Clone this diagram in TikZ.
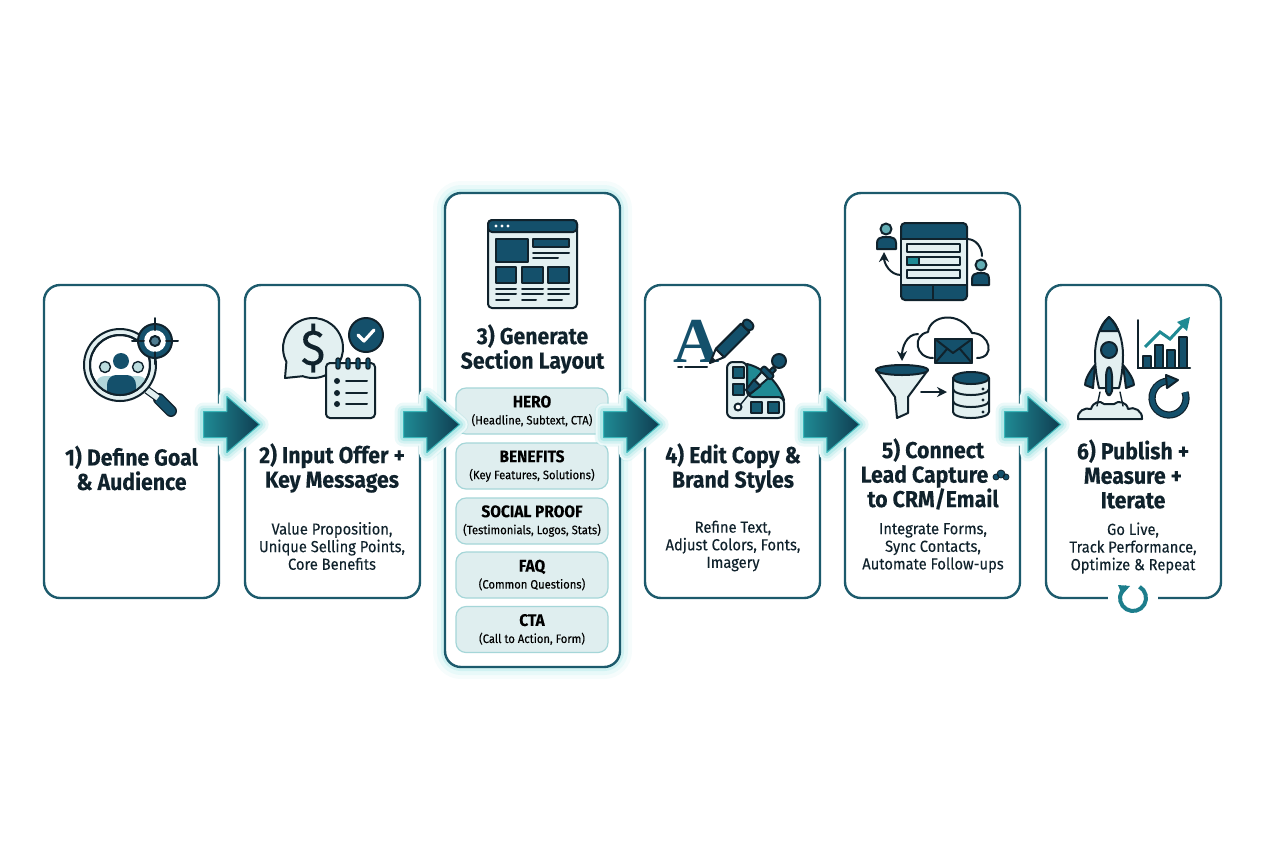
\documentclass[tikz,border=0pt]{standalone}
\usepackage{fontspec}
\setmainfont{Fira Sans}[FakeStretch=0.92, FakeBold=0.12]
\newfontfamily\iconserif{Liberation Serif}
\usetikzlibrary{shapes.arrows,arrows.meta}

\definecolor{navy}{HTML}{14506B}
\definecolor{ink}{HTML}{10222C}
\definecolor{cardline}{HTML}{1C5A6C}
\definecolor{tealmid}{HTML}{1F8A94}
\definecolor{pale}{HTML}{E3F0F1}
\definecolor{secfill}{HTML}{DFEEEF}
\definecolor{secline}{HTML}{A5D6D8}
\definecolor{glowteal}{HTML}{45CCCC}

\tikzset{
  card/.style={draw=cardline, fill=white, line width=1.2pt, rounded corners=8pt, minimum width=87.5pt, inner sep=0pt},
  glowcard/.style={card, preaction={draw=glowteal, line width=12pt, opacity=0.05}, preaction={draw=glowteal, line width=8pt, opacity=0.08}, preaction={draw=glowteal, line width=4pt, opacity=0.14}},
  secbox/.style={draw=secline, fill=secfill, line width=0.6pt, rounded corners=5pt, minimum width=76pt, minimum height=23pt, inner sep=0pt, align=center, font=\fontsize{6.1}{8.5}\selectfont},
  blockarrow/.style={single arrow, minimum height=28pt, minimum width=27.5pt, single arrow head extend=7.5pt, single arrow tip angle=81, inner xsep=0pt, inner ysep=6.25pt, left color=tealmid, right color=navy!75!black, draw=glowteal!70!tealmid, line width=0.5pt, line join=round,
    preaction={draw=white, line width=8pt, line join=round}, preaction={draw=glowteal, line width=9pt, opacity=0.10, line join=round}, preaction={draw=glowteal, line width=6pt, opacity=0.14, line join=round}, preaction={draw=glowteal, line width=3.5pt, opacity=0.22, line join=round}},
  title/.style={align=center, font=\fontsize{11.55}{12.25}\selectfont\bfseries, text=ink, inner sep=0pt},
  sub/.style={align=center, font=\fontsize{8}{8.8}\selectfont, text=ink, inner sep=0pt},
  icon/.style={draw=ink, line width=1pt, line join=round, line cap=round},
  thinrule/.style={draw=ink, line width=1pt, line cap=round},
}

\begin{document}
\begin{tikzpicture}[x=0.5pt, y=-0.5pt]
    \useasboundingbox (0,0) rectangle (1264,848);

    % cards
    \node[card, minimum height=156.5pt] (card1) at (131.5,441.5) {};
    \node[card, minimum height=156.5pt] (card2) at (332.5,441.5) {};
    \node[glowcard, minimum height=237pt] (card3) at (532.5,430) {};
    \node[card, minimum height=156.5pt] (card4) at (732.5,441.5) {};
    \node[card, minimum height=202.5pt] (card5) at (932.5,395.5) {};
    \node[card, minimum height=156.5pt] (card6) at (1133.5,441.5) {};

    % titles and captions
    \node[title] (title1) at (131.5,468) {1) Define Goal\\\& Audience};
    \node[title] (title2) at (332,468) {2) Input Offer +\\Key Messages};
    \node[title] (title3) at (532.5,349) {3) Generate\\Section Layout};
    \node[title] (title4) at (733,468) {4) Edit Copy \&\\Brand Styles};
    \node[title] (title5) at (933,474) {5) Connect\\Lead Capture\rule{8.5pt}{0pt}\\to CRM/Email};
    \node[title] (title6) at (1133,474) {6) Publish +\\Measure +\\Iterate};
    \node[sub] (sub2) at (332,546) {Value Proposition,\\Unique Selling Points,\\Core Benefits};
    \node[sub] (sub4) at (733,546) {Refine Text,\\Adjust Colors, Fonts,\\Imagery};
    \node[sub] (sub5) at (933,548) {Integrate Forms,\\Sync Contacts,\\Automate Follow-ups};
    \node[sub] (sub6) at (1133,548) {Go Live,\\Track Performance,\\Optimize \& Repeat};

    % sections of the layout
    \node[secbox] (hero) at (532,411) {{\fontsize{8.4}{8.5}\selectfont\bfseries HERO}\\(Headline, Subtext, CTA)};
    \node[secbox] (benefits) at (532,466) {{\fontsize{8.4}{8.5}\selectfont\bfseries BENEFITS}\\(Key Features, Solutions)};
    \node[secbox] (proof) at (532,521) {{\fontsize{8.4}{8.5}\selectfont\bfseries SOCIAL PROOF}\\(Testimonials, Logos, Stats)};
    \node[secbox] (faq) at (532,575) {{\fontsize{8.4}{8.5}\selectfont\bfseries FAQ}\\(Common Questions)};
    \node[secbox] (cta) at (532,629.5) {{\fontsize{8.4}{8.5}\selectfont\bfseries CTA}\\(Call to Action, Form)};

    % icon 1: magnifier, audience, target
    \draw[ink, line width=6pt, line cap=round] (159,399) -- (171,411);
    \draw[navy, line width=4.6pt, line cap=round] (159,399) -- (171,411);
    \draw[ink, line width=4pt] (147,390) -- (158,398);
    \draw[pale, line width=2.8pt] (147,390) -- (158,398);
    \draw[icon, fill=pale] (120,365) circle (36);
    \draw[icon, fill=white] (120,365) circle (30);
    \begin{scope}
        \clip (120,365) circle (30);
        \fill[pale!80!tealmid] (105,367) circle (5.5);
        \fill[pale!80!tealmid] (138,367) circle (5.5);
        \fill[tealmid!35!white] (96,400) -- (96,384) to[out=90,in=180] (105,376) -- (138,376) to[out=0,in=90] (147,384) -- (147,400) -- cycle;
        \fill[navy] (107,400) -- (107,385) to[out=90,in=180] (116,375) -- (127,375) to[out=0,in=90] (136,385) -- (136,400) -- cycle;
    \end{scope}
    \draw[icon, line width=0.7pt] (105,367) circle (5.5) (138,367) circle (5.5);
    \fill[navy] (121,361) circle (8);
    \draw[icon] (120,365) circle (30);
    \draw[icon, fill=navy] (155,341) circle (17);
    \fill[white] (155,341) circle (11);
    \draw[icon, fill=navy!75!white] (155,341) circle (5);
    \draw[thinrule] (132,341) -- (144,341) (166,341) -- (178,341) (155,318) -- (155,330) (155,352) -- (155,364);

    % icon 2: offer bubble, check, notepad
    \draw[icon, fill=pale] (285,378) -- (286.4,361.8) arc (152.6:470:30) -- cycle;
    \node[inner sep=0pt, text=ink, font=\fontsize{25}{25}\selectfont] (dollar) at (313,348) {\$};
    \fill[navy, draw=ink, line width=1pt] (366,335) circle (17);
    \draw[white, line width=1.6pt, line cap=round, line join=round] (358,335) -- (364,341) -- (374,330);
    \draw[icon, fill=pale, rounded corners=2pt] (326,363) rectangle (375,418);
    \foreach \xring in {338,348,358,368} {
        \draw[icon, fill=navy, line width=0.7pt, rounded corners=1pt] (\xring-2,358) rectangle (\xring+2,369);
    }
    \foreach \yitem in {381,393,404} {
        \fill[ink] (337,\yitem) circle (3);
        \draw[thinrule] (346,\yitem) -- (367,\yitem);
    }

    % icon 3: page layout
    \draw[icon, fill=pale, rounded corners=2pt] (488,220) rectangle (577,308);
    \draw[icon, fill=navy, rounded corners=2pt] (488,220) rectangle (577,232);
    \foreach \xdot in {496,502,508} { \fill[white] (\xdot,226) circle (1.6); }
    \draw[icon, fill=navy] (496,239) rectangle (528,262);
    \draw[icon, fill=navy] (533,239) rectangle (569,247);
    \draw[thinrule] (533,253) -- (569,253) (533,258) -- (558,258);
    \foreach \xa/\xb/\xc in {496/516/509,522/543/536,548/569/562} {
        \draw[icon, fill=navy] (\xa,267) rectangle (\xb,283);
        \draw[thinrule] (\xa,289) -- (\xb,289) (\xa,294) -- (\xb,294) (\xa,300) -- (\xc,300);
    }

    % icon 4: letter, pencil, palette, dropper
    \node[inner sep=0pt, text=navy, font=\iconserif\bfseries\fontsize{32}{32}\selectfont] (letter) at (697,341) {A};
    \draw[thinrule] (678,367) -- (682,367) (685,367) -- (707,367);
    \draw[icon, fill=white] (710,363) -- (715.8,348.8) -- (720,353) -- (724.2,357.2) -- cycle;
    \draw[icon, fill=navy] (715.8,348.8) -- (741,323.6) -- (749.4,332) -- (724.2,357.2) -- cycle;
    \draw[icon, fill=navy, rounded corners=2pt] (741,323.6) -- (746.8,317.8) -- (755.2,326.2) -- (749.4,332) -- cycle;
    \fill[ink] (710,363) -- (712.5,357) -- (716,360.5) -- cycle;
    \draw[icon, fill=tealmid] (747,364) .. controls (765,368) and (780,385) .. (784,400) -- (747,400) -- cycle;
    \draw[icon, fill=pale, rounded corners=3pt] (727,362) -- (747,362) -- (747,397) -- (784,397) -- (784,418) -- (727,418) -- cycle;
    \draw[icon, fill=navy!80!tealmid] (733,367) rectangle (744,378) (733,384) rectangle (744,395) (751,402) rectangle (762,413) (768,402) rectangle (779,413);
    \draw[icon, fill=white] (738,407) circle (3.5);
    \draw[icon, line width=0.7pt] (741,404) -- (750,393);
    \draw[icon, fill=pale] (761.8,371.8) -- (768.2,378.2) -- (750,394) -- (746,390) -- cycle;
    \draw[icon, fill=navy] (754,379.6) -- (760.4,386) -- (750,394) -- (746,390) -- cycle;
    \draw[icon, fill=navy] (773,367) -- (776,370) -- (770,376) -- (767,373) -- cycle;
    \draw[icon, fill=navy, rounded corners=1pt] (760,370) -- (764.2,365.8) -- (774.2,375.8) -- (770,380) -- cycle;
    \draw[icon, fill=navy] (779,361) circle (7);

    % icon 5: form and people
    \draw[icon, fill=navy, rounded corners=2pt] (901,223) rectangle (967,300);
    \fill[pale, draw=ink, line width=1pt] (901,239) rectangle (967,285);
    \draw[ink, line width=0.6pt] (933,285) -- (933,300);
    \draw[icon, fill=pale] (907,244) rectangle (960,252) (907,257) rectangle (960,265) (907,270) rectangle (960,278);
    \draw[icon, fill=tealmid] (907,257) rectangle (919,265);
    \draw[icon, fill=tealmid!70!white] (886,229) circle (5.5);
    \draw[icon, fill=navy] (877,249) -- (877,243) .. controls (877,239) and (880,237) .. (883,237) -- (890,237) .. controls (893,237) and (896,239) .. (896,243) -- (896,249) -- cycle;
    \draw[icon, fill=tealmid!70!white] (981,265) circle (5.5);
    \draw[icon, fill=navy] (972,285) -- (972,279) .. controls (972,275) and (975,273) .. (978,273) -- (984,273) .. controls (987,273) and (989,275) .. (989,279) -- (989,285) -- cycle;
    \draw[icon, -{Stealth[length=5pt,width=5pt]}] (901,275) to[out=180,in=-90] (884,252);
    \draw[icon] (967,239) to[out=0,in=90] (982,256);

    % icon 5: cloud, funnel, database
    \draw[icon] (933,358) .. controls (915,358) and (912,335) .. (928,332) .. controls (930,315) and (960,310) .. (972,333) .. controls (990,333) and (996,358) .. (977,358);
    \draw[icon, fill=navy] (935,339) rectangle (972,363);
    \draw[icon, draw=ink] (935,339) -- (953,353) -- (972,339) (935,363) -- (947,349) (972,363) -- (960,349);
    \draw[icon, -{Stealth[length=5pt,width=5pt]}] (918,334) to[out=180,in=90] (902,361);
    \draw[icon, fill=pale] (876,370) -- (895,397) -- (897,418) -- (908,413) -- (908,397) -- (928,370) -- cycle;
    \draw[icon, fill=navy] (902,370) ellipse (26 and 5);
    \draw[icon, -{Stealth[length=5pt,width=5pt]}] (921,392) -- (947,392);
    \draw[icon, fill=pale] (953,378) -- (953,412) arc (180:0:18 and 6) -- (989,378) -- cycle;
    \draw[icon] (953,389) arc (180:0:18 and 6);
    \draw[icon] (953,401) arc (180:0:18 and 6);
    \draw[icon, fill=navy] (971,378) ellipse (18 and 6);
    \foreach \ydot in {389,400,412} { \fill[ink] (983,\ydot) circle (1.7); }
    \fill[navy, draw=ink, line width=0.4pt] (1001,474) circle (4) (996,477) circle (3) (1006,477) circle (3);

    % icon 6: rocket, chart, refresh
    \draw[icon, fill=navy] (1095,365) .. controls (1089,372) and (1085,380) .. (1085,385) -- (1093,388) -- cycle;
    \draw[icon, fill=navy] (1123,365) .. controls (1129,372) and (1134,380) .. (1134,385) -- (1126,388) -- cycle;
    \draw[icon, fill=pale] (1109,317) .. controls (1119,325) and (1123,342) .. (1123,355) .. controls (1123,368) and (1121,380) .. (1119,388) -- (1099,388) .. controls (1097,380) and (1095,368) .. (1095,355) .. controls (1095,342) and (1099,325) .. cycle;
    \draw[icon, fill=navy] (1109,317) .. controls (1113,321) and (1116,325) .. (1118,331) -- (1100,331) .. controls (1102,325) and (1105,321) .. cycle;
    \draw[icon, fill=navy] (1109,350) circle (8);
    \draw[icon, fill=navy, rounded corners=2pt] (1106,395) -- (1106,372) -- (1109,365) -- (1112,372) -- (1112,395) -- cycle;
    \draw[icon, fill=pale] (1078,419) .. controls (1077,411) and (1085,407) .. (1091,409) .. controls (1093,402) and (1100,400) .. (1104,404) -- (1114,404) .. controls (1118,400) and (1127,402) .. (1128,409) .. controls (1134,406) and (1143,411) .. (1142,419) -- cycle;
    \draw[icon, line width=0.7pt] (1100,392) -- (1097,406) (1120,392) -- (1123,406);
    \draw[thinrule] (1138,320) -- (1138,368) -- (1190,368);
    \foreach \xa/\ytop in {1143/356,1155/345,1167/350,1179/337} {
        \draw[icon, fill=navy] (\xa,368) rectangle (\xa+7.5,\ytop);
    }
    \draw[tealmid, line width=1.5pt, line join=miter] (1145,347) -- (1160,332) -- (1170,339) -- (1183,325);
    \fill[tealmid] (1190,317) -- (1177,322) -- (1187,331) -- cycle;
    \draw[ink, line width=3.6pt] (1169,398) ++(-20:17) arc (-20:265:17);
    \draw[navy, line width=2.4pt] (1169,398) ++(-20:17) arc (-20:265:17);
    \draw[icon, fill=navy] (1166,375) -- (1178,380) -- (1167,388) -- cycle;

    % block arrows between the cards
    \node[blockarrow] (arrow12) at (224,424.5) {};
    \node[blockarrow] (arrow23) at (424,424.5) {};
    \node[blockarrow] (arrow34) at (624,424.5) {};
    \node[blockarrow] (arrow45) at (824,424.5) {};
    \node[blockarrow] (arrow56) at (1025,424.5) {};

    % loop badge on the last card
    \fill[white] (1108,592) rectangle (1158,604);
    \draw[tealmid!80!navy, line width=2pt] (1133,598) ++(-60:13) arc (-60:240:13);
    \fill[tealmid!80!navy] (1118,585) -- (1130,586) -- (1122,595) -- cycle;
\end{tikzpicture}
\end{document}
